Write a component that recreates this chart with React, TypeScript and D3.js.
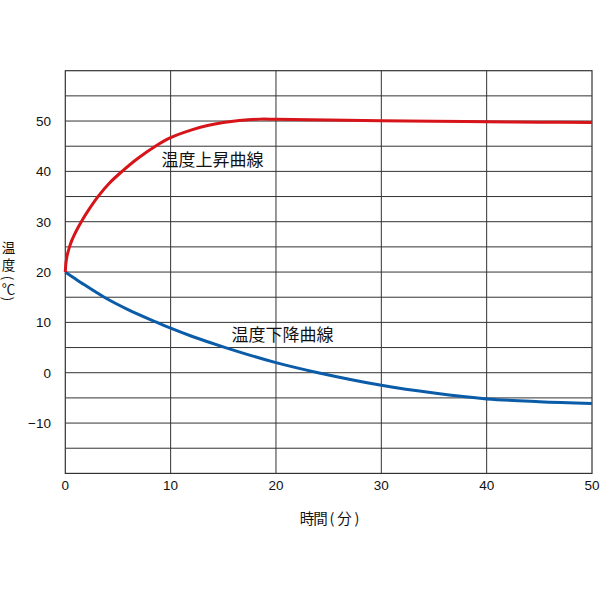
import React from "react";
import * as d3 from "d3";

const xTicks = [0, 10, 20, 30, 40, 50];
const yTickLabels = [50, 40, 30, 20, 10, 0, -10];
const yGrid = [-15, -10, -5, 0, 5, 10, 15, 20, 25, 30, 35, 40, 45, 50, 55];

const riseTime = [0, 0.05, 0.1, 0.2, 0.4, 0.6, 0.8, 1.1, 1.52, 2.2, 3.1, 4.2, 5.39, 6.9, 8.55, 10, 12, 13.5, 15, 16.5, 18.5, 20, 25, 30, 35, 40, 45, 50];
const riseTemp = [20, 21.6, 22.4, 23.5, 25, 26.2, 27.15, 28.4, 30, 32.3, 35, 37.7, 40, 42.6, 45, 46.7, 48.25, 49.1, 49.7, 50.1, 50.38, 50.35, 50.2, 50.05, 49.95, 49.85, 49.78, 49.7];

const fallTime = [0, 0.8, 1.6, 3.7, 6, 8.7, 10, 12, 15.2, 20, 24, 30, 35, 40, 45, 50];
const fallTemp = [20, 18.88, 17.75, 15, 12.5, 10, 8.85, 7.25, 5, 2.0, 0, -2.5, -4.05, -5.2, -5.75, -6.1];

const riseLabel = "温度上昇曲線";
const fallLabel = "温度下降曲線";
const xTitleParts = ["時", "間", "(", "分", ")"];
const yTitleMain = "温度";
const yTitleUnit = "(℃)";

const W = 600;
const H = 600;
const left = 65.3;
const right = 592;
const top = 70.7;
const bottom = 473.4;

export default function App() {
  const x = d3.scaleLinear().domain([0, 50]).range([left, right]);
  const y = d3.scaleLinear().domain([-20, 60]).range([bottom, top]);

  const line = d3
    .line<[number, number]>()
    .x((d) => x(d[0]))
    .y((d) => y(d[1]))
    .curve(d3.curveCatmullRom.alpha(0.5));

  const rise = riseTime.map((t, i) => [t, riseTemp[i]] as [number, number]);
  const fall = fallTime.map((t, i) => [t, fallTemp[i]] as [number, number]);

  const num = "'Liberation Sans', Arial, Helvetica, sans-serif";
  const cjk = "'Noto Sans CJK JP', 'Noto Sans', sans-serif";
  const fmt = (v: number) => (v < 0 ? "\u2212" + Math.abs(v) : String(v));

  const xTitleX = [307, 320.5, 332, 344.5, 357];

  return (
    <svg
      width={W}
      height={H}
      viewBox={`0 0 ${W} ${H}`}
      style={{ position: "absolute", left: 0, top: 0, background: "#fff" }}
    >
      <rect x={0} y={0} width={W} height={H} fill="#fff" />
      {yGrid.map((v) => (
        <line key={"h" + v} x1={left} x2={right} y1={y(v)} y2={y(v)} stroke="#333" strokeWidth={1} />
      ))}
      {xTicks.slice(1, -1).map((v) => (
        <line key={"v" + v} x1={x(v)} x2={x(v)} y1={top} y2={bottom} stroke="#333" strokeWidth={1} />
      ))}
      <rect x={left} y={top} width={right - left} height={bottom - top} fill="none" stroke="#333" strokeWidth={1.2} />

      <path d={line(fall) || ""} fill="none" stroke="#0a5ca8" strokeWidth={3} />
      <path d={line(rise) || ""} fill="none" stroke="#d7141a" strokeWidth={3} />

      {yTickLabels.map((v) => (
        <text key={"yl" + v} x={51} y={y(v)} dy="0.36em" textAnchor="end" fontFamily={num} fontSize={13.5} fill="#111">
          {fmt(v)}
        </text>
      ))}
      {xTicks.map((v) => (
        <text key={"xl" + v} x={x(v)} y={490.4} textAnchor="middle" fontFamily={num} fontSize={13.5} fill="#111">
          {v}
        </text>
      ))}

      <text x={161.5} y={166} fontFamily={cjk} fontSize={17} fill="#111">
        {riseLabel}
      </text>
      <text x={231.5} y={341} fontFamily={cjk} fontSize={17} fill="#111">
        {fallLabel}
      </text>

      <text fontFamily={cjk} fontSize={14.5} fill="#111" textAnchor="middle">
        {xTitleParts.map((c, i) => (
          <tspan key={"xt" + i} x={xTitleX[i]} y={524.2}>
            {c}
          </tspan>
        ))}
      </text>

      <text
        x={8.5}
        y={240.75}
        fontFamily={cjk}
        fontSize={13.5}
        fill="#111"
        style={{ writingMode: "vertical-rl" }}
      >
        <tspan style={{ letterSpacing: "4px" }}>{yTitleMain}</tspan>
        <tspan style={{ letterSpacing: "1.5px" }}>{yTitleUnit}</tspan>
      </text>
    </svg>
  );
}
